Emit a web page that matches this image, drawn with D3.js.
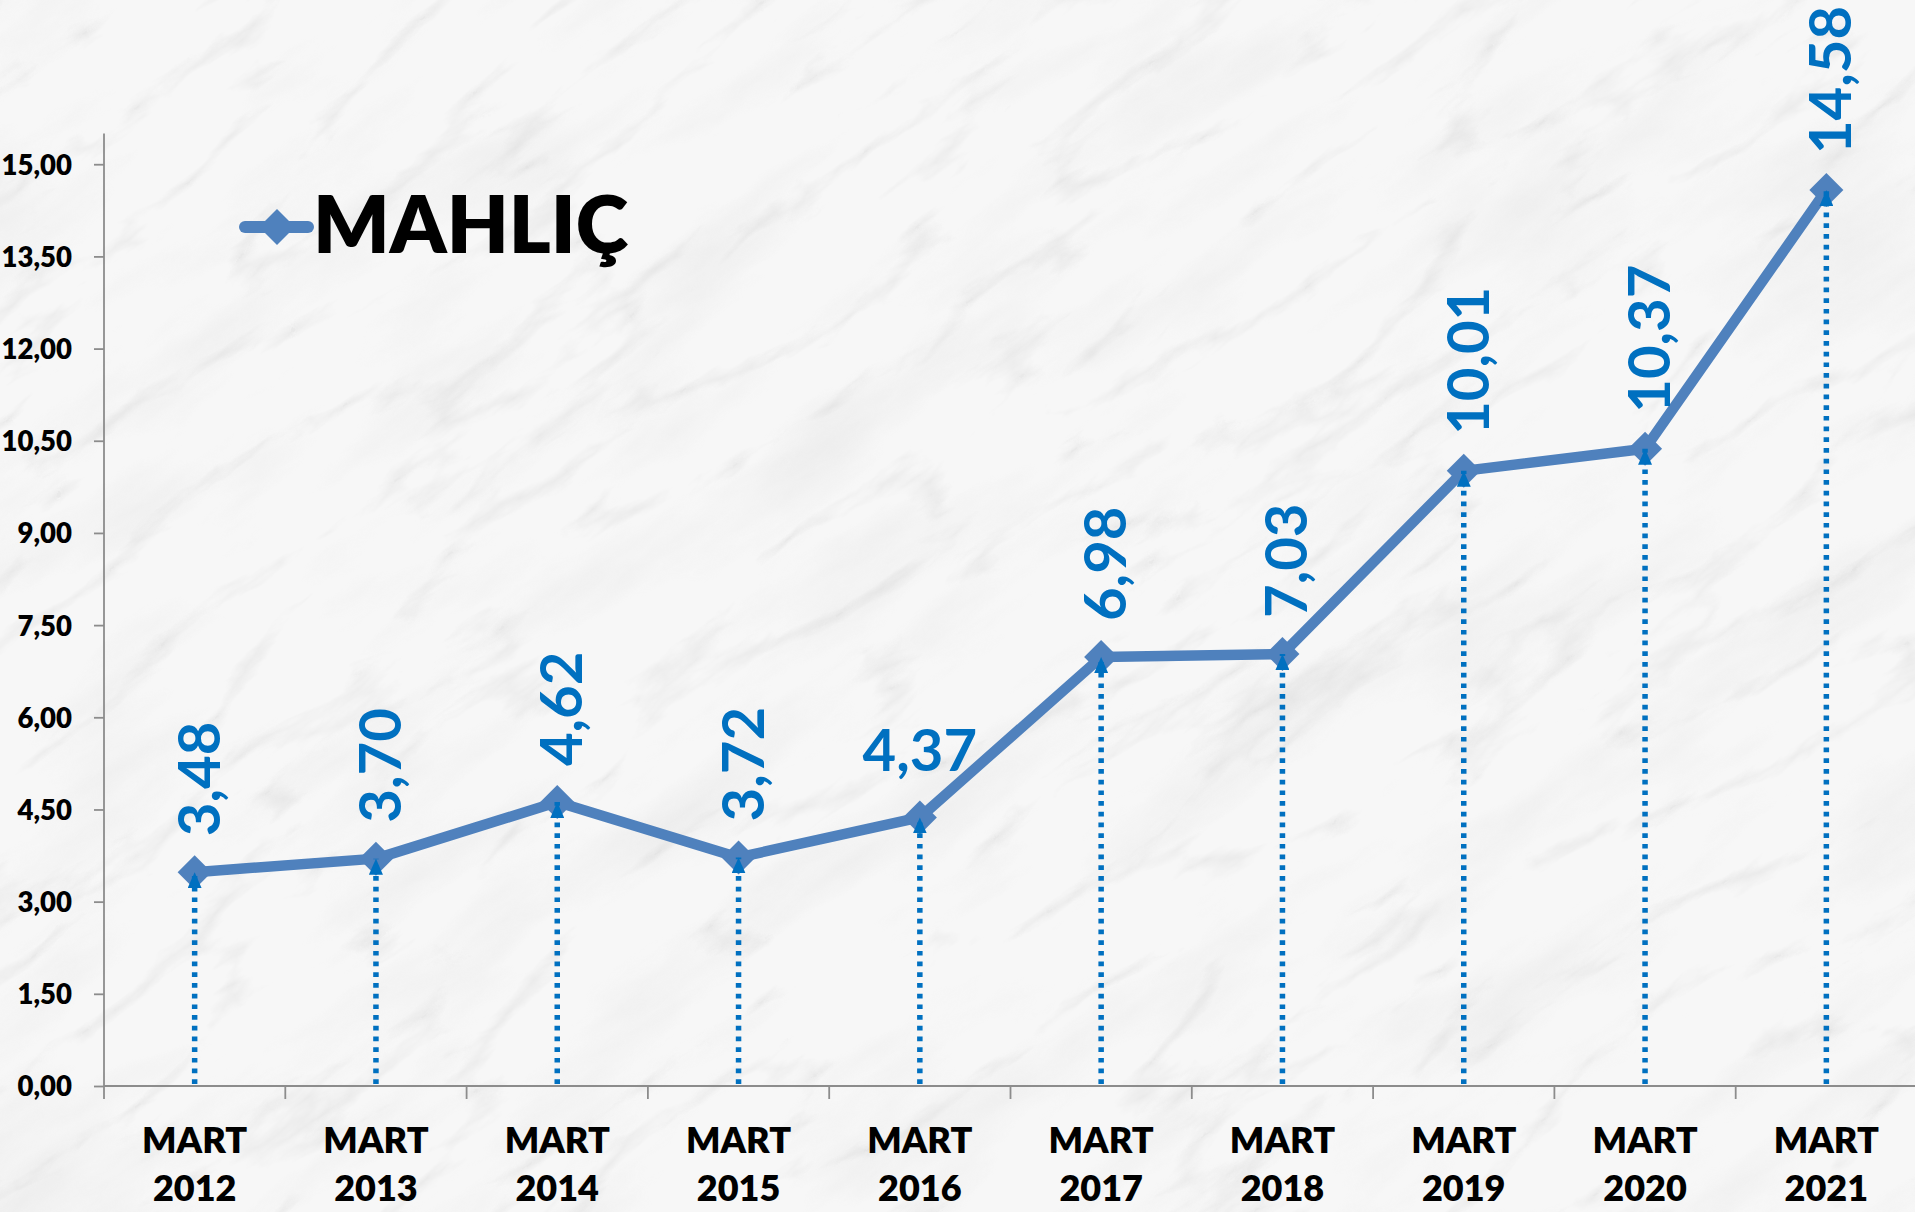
<!DOCTYPE html>
<html>
<head>
<meta charset="utf-8">
<script src="https://cdn.jsdelivr.net/npm/d3@7"></script>
<style>
  html, body { margin: 0; padding: 0; background: #f6f6f6; overflow: hidden; }
  svg { display: block; font-family: Lato, "Open Sans", sans-serif; }
</style>
</head>
<body>
<svg id="chart" width="1915" height="1212"></svg>
<script>
// MAHLIÇ – March values, 2012–2021
const years = ["2012", "2013", "2014", "2015", "2016", "2017", "2018", "2019", "2020", "2021"];
const monthLabel = "MART";
const values = [3.48, 3.70, 4.62, 3.72, 4.37, 6.98, 7.03, 10.01, 10.37, 14.58];
const yTicks = [0, 1.5, 3, 4.5, 6, 7.5, 9, 10.5, 12, 13.5, 15];
const seriesName = "MAHLIÇ";

const W = 1915, H = 1212;
const svg = d3.select("#chart");
const fmt = d => d.toFixed(2).replace(".", ",");

// marble background: pale base, soft clouding and thin diagonal veins
const defs = svg.append("defs");
const cloud = defs.append("filter").attr("id", "cloud").attr("x", 0).attr("y", 0)
  .attr("width", "100%").attr("height", "100%");
cloud.append("feTurbulence").attr("type", "fractalNoise").attr("baseFrequency", "0.004 0.014")
  .attr("numOctaves", 5).attr("seed", 3).attr("result", "n");
cloud.append("feColorMatrix").attr("in", "n").attr("type", "matrix")
  .attr("values", "0 0 0 0 0.6  0 0 0 0 0.6  0 0 0 0 0.6  -1.4 0 0 0 0.72");

const veins = defs.append("filter").attr("id", "veins").attr("x", 0).attr("y", 0)
  .attr("width", "100%").attr("height", "100%");
veins.append("feTurbulence").attr("type", "turbulence").attr("baseFrequency", "0.0035 0.011")
  .attr("numOctaves", 6).attr("seed", 11).attr("result", "t");
veins.append("feColorMatrix").attr("in", "t").attr("type", "matrix")
  .attr("values", "0 0 0 0 0.55  0 0 0 0 0.55  0 0 0 0 0.55  -4 0 0 0 0.9")
  .attr("result", "v");
veins.append("feComponentTransfer").attr("in", "v")
  .append("feFuncA").attr("type", "linear").attr("slope", 0.3).attr("intercept", 0);

svg.append("rect").attr("width", W).attr("height", H).attr("fill", "#f7f7f7");
const bg = svg.append("g").attr("transform", `rotate(-35 ${W / 2} ${H / 2})`);
bg.append("rect").attr("x", -600).attr("y", -900).attr("width", W + 1200).attr("height", H + 1800)
  .attr("filter", "url(#cloud)").attr("opacity", 0.35);
bg.append("rect").attr("x", -600).attr("y", -900).attr("width", W + 1200).attr("height", H + 1800)
  .attr("filter", "url(#veins)");

const arrow = defs.append("marker").attr("id", "arrowUp")
  .attr("viewBox", "0 0 10 10").attr("refX", 5).attr("refY", 0)
  .attr("markerWidth", 14).attr("markerHeight", 16)
  .attr("markerUnits", "userSpaceOnUse").attr("orient", "0")
  .attr("preserveAspectRatio", "none");
arrow.append("path").attr("d", "M0,10 L5,0 L10,10 Z").attr("fill", "#0070C0");

// scales
const x = d3.scaleBand().domain(years).range([104, 1917]).padding(0);
const y = d3.scaleLinear().domain([0, 15.5]).range([1086, 133.5]);
const cx = d => x(d) + x.bandwidth() / 2;

// y axis
const yAxis = svg.append("g").attr("transform", "translate(104,0)")
  .call(d3.axisLeft(y).tickValues(yTicks).tickSize(10).tickPadding(22).tickFormat(fmt));
yAxis.select(".domain").attr("d", `M0,${y.range()[1]}V${y(0) + 13}`);
yAxis.selectAll("path, line").attr("stroke", "#8c8c8c").attr("stroke-width", 1.8);
yAxis.selectAll("text").attr("font-size", 27.5).attr("font-weight", 800).attr("fill", "#000")
  .attr("font-family", "Lato, sans-serif").attr("dy", "0.36em");

// x axis
const xg = svg.append("g");
xg.append("line").attr("x1", x.range()[0]).attr("x2", W).attr("y1", y(0)).attr("y2", y(0))
  .attr("stroke", "#8c8c8c").attr("stroke-width", 1.8);
xg.selectAll("line.tick").data(years.slice(1)).join("line").attr("class", "tick")
  .attr("x1", d => x(d)).attr("x2", d => x(d)).attr("y1", y(0)).attr("y2", y(0) + 13)
  .attr("stroke", "#8c8c8c").attr("stroke-width", 1.8);
const xl = xg.selectAll("text.xl").data(years).join("text").attr("class", "xl")
  .attr("text-anchor", "middle").attr("font-size", 36).attr("font-weight", 800).attr("fill", "#000");
xl.append("tspan").attr("x", d => cx(d)).attr("y", 1153).text(monthLabel);
xl.append("tspan").attr("x", d => cx(d)).attr("y", 1201).text(d => d);

const pts = years.map((d, i) => ({ year: d, v: values[i] }));

// value line
svg.append("path").datum(pts)
  .attr("d", d3.line().x(d => cx(d.year)).y(d => y(d.v)))
  .attr("fill", "none").attr("stroke", "#4F81BD").attr("stroke-width", 10.5)
  .attr("stroke-linejoin", "round").attr("stroke-linecap", "round");

// diamond markers
const diamond = s => `M0,${-s}L${s},0L0,${s}L${-s},0Z`;
svg.selectAll("path.mk").data(pts).join("path").attr("class", "mk")
  .attr("transform", d => `translate(${cx(d.year)},${y(d.v)})`)
  .attr("d", diamond(17)).attr("fill", "#4F81BD");

// dotted drop lines with arrowheads
svg.selectAll("line.drop").data(pts).join("line").attr("class", "drop")
  .attr("x1", d => cx(d.year)).attr("x2", d => cx(d.year))
  .attr("y1", y(0) - 2).attr("y2", d => y(d.v))
  .attr("stroke", "#0070C0").attr("stroke-width", 5.5).attr("stroke-dasharray", "4.7 6")
  .attr("marker-end", "url(#arrowUp)");

// value labels
const flat = new Set(["2016"]);
svg.selectAll("text.val").data(pts).join("text").attr("class", "val")
  .attr("fill", "#0070C0").attr("font-size", 58).attr("font-weight", 700)
  .attr("text-anchor", d => flat.has(d.year) ? "middle" : "start")
  .attr("transform", d => flat.has(d.year)
    ? `translate(${cx(d.year)},${y(d.v) - 46})`
    : `translate(${cx(d.year) + 25},${y(d.v) - 36}) rotate(-90)`)
  .text(d => fmt(d.v));

// legend
const lg = svg.append("g").attr("transform", "translate(245,227)");
lg.append("line").attr("x1", 0).attr("x2", 63).attr("stroke", "#4F81BD")
  .attr("stroke-width", 12).attr("stroke-linecap", "round");
lg.append("path").attr("transform", "translate(32,0)").attr("d", diamond(18)).attr("fill", "#4F81BD");
lg.append("text").attr("x", 68).attr("y", 26).attr("font-size", 80).attr("font-weight", 800)
  .attr("fill", "#000").text(seriesName);
</script>
</body>
</html>
